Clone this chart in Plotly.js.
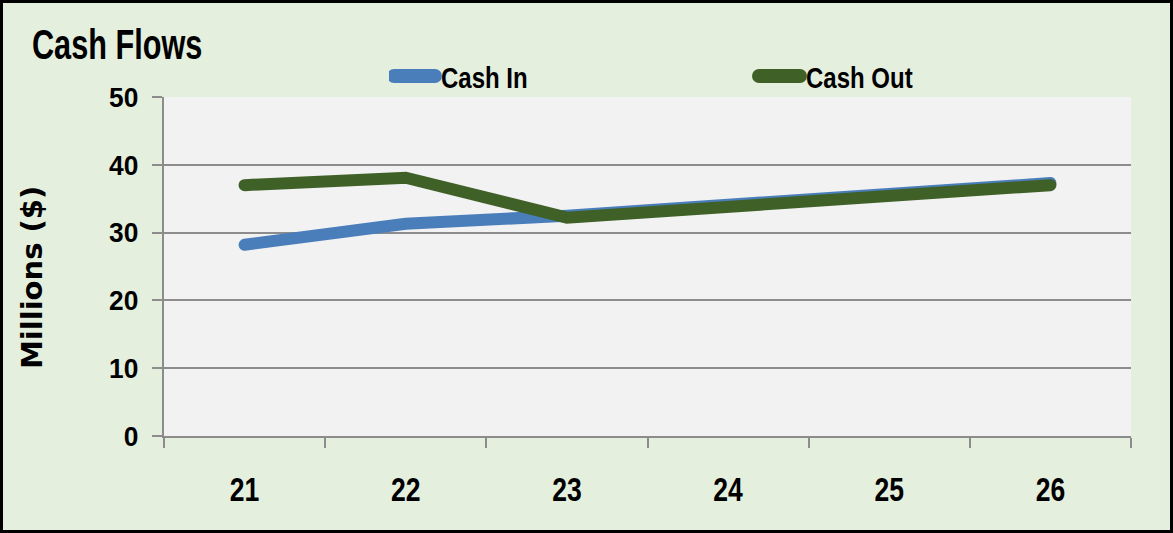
<!DOCTYPE html>
<html>
<head>
<meta charset="utf-8">
<script src="https://cdn.plot.ly/plotly-3.0.1.min.js"></script>
<style>
  html, body { margin: 0; padding: 0; background: #E4EFDD; }
  #wrap { position: relative; width: 1173px; height: 533px; }
  #chart { width: 1173px; height: 533px; }
  #frame { position: absolute; left: 0; top: 0; width: 1173px; height: 533px; box-sizing: border-box; border: 3px solid #000; pointer-events: none; }
  .js-line, .legendlines path { stroke-linecap: round !important; }
</style>
</head>
<body>
<div id="wrap">
  <div id="chart"></div>
  <div id="frame"></div>
</div>
<script>
const categories = ['21', '22', '23', '24', '25', '26'];
const cashIn = [28.2, 31.3, 32.5, 34.0, 35.6, 37.3];
const cashOut = [37.0, 38.1, 32.2, 33.8, 35.4, 37.0];
const yTicks = [0, 10, 20, 30, 40, 50];
const titleText = 'Cash Flows';
const yTitleText = 'Millions ($)';

const sans = '"Liberation Sans", Arial, sans-serif';

const traces = [
  { x: categories, y: cashIn, name: 'Cash In', type: 'scatter', mode: 'lines',
    line: { color: '#4A7EBB', width: 12 } },
  { x: categories, y: cashOut, name: 'Cash Out', type: 'scatter', mode: 'lines',
    line: { color: '#3F6128', width: 12 } }
];

const layout = {
  width: 1173, height: 533,
  margin: { l: 164, r: 42, t: 97, b: 97 },
  paper_bgcolor: '#E4EFDD',
  plot_bgcolor: '#F2F2F2',
  title: { text: titleText, font: { family: sans, size: 42, color: '#000', weight: 'bold' },
           xref: 'container', yref: 'container', x: 32 / 1173, xanchor: 'left', y: 1 - 44 / 533, yanchor: 'middle' },
  showlegend: true,
  legend: { orientation: 'h', x: (389 - 164) / 967, xanchor: 'left', y: 1 + 21 / 339, yanchor: 'middle',
            bgcolor: 'rgba(0,0,0,0)', font: { family: sans, size: 30, color: '#000', weight: 'bold' },
            entrywidth: 320, entrywidthmode: 'pixels', traceorder: 'normal' },
  xaxis: { type: 'category', tickson: 'boundaries', ticks: 'outside', ticklen: 10, tickwidth: 2, tickcolor: '#8c8c8c',
           showline: true, linecolor: '#8c8c8c', linewidth: 2, showgrid: false, zeroline: false,
           range: [-0.5, 5.5], fixedrange: true,
           tickfont: { family: sans, size: 34, color: '#000', weight: 'bold' }, ticklabelstandoff: 22 },
  yaxis: { range: [0, 50], tickvals: yTicks, ticks: 'outside', ticklen: 10, tickwidth: 2, tickcolor: '#8c8c8c',
           showline: true, linecolor: '#8c8c8c', linewidth: 2, showgrid: true, gridcolor: '#8c8c8c', gridwidth: 2,
           zeroline: false, tickfont: { family: sans, size: 28, color: '#000', weight: 'bold' }, ticklabelstandoff: 8 },
  annotations: [
    { text: yTitleText, xref: 'paper', yref: 'paper', x: (32 - 164) / 967, y: (436 - 278) / 339, xanchor: 'center', yanchor: 'middle',
      textangle: -90, showarrow: false, font: { family: '"DejaVu Sans", sans-serif', size: 29, color: '#000', weight: 'bold' } }
  ]
};

function squeeze(el, s) {
  const x = parseFloat(el.getAttribute('x') || '0');
  const y = parseFloat(el.getAttribute('y') || '0');
  const t = el.getAttribute('transform') || '';
  el.setAttribute('transform', t + ' translate(' + x + ',' + y + ') scale(' + s + ',1) translate(' + (-x) + ',' + (-y) + ')');
}

Plotly.newPlot('chart', traces, layout, { displayModeBar: false, staticPlot: true }).then(function (gd) {
  gd.querySelectorAll('.legendlines path').forEach(function (p) {
    p.setAttribute('d', 'M5,0h41');
    p.style.strokeWidth = '14px';
  });
  gd.querySelectorAll('.legendtext').forEach(function (t) {
    t.setAttribute('x', '52');
    squeeze(t, 0.8);
  });
  gd.querySelectorAll('.gtitle').forEach(function (t) { squeeze(t, 0.73); });
  gd.querySelectorAll('.xtick text').forEach(function (t) { squeeze(t, 0.78); });
  gd.querySelectorAll('.ytick text').forEach(function (t) { squeeze(t, 0.94); });
});
</script>
</body>
</html>
